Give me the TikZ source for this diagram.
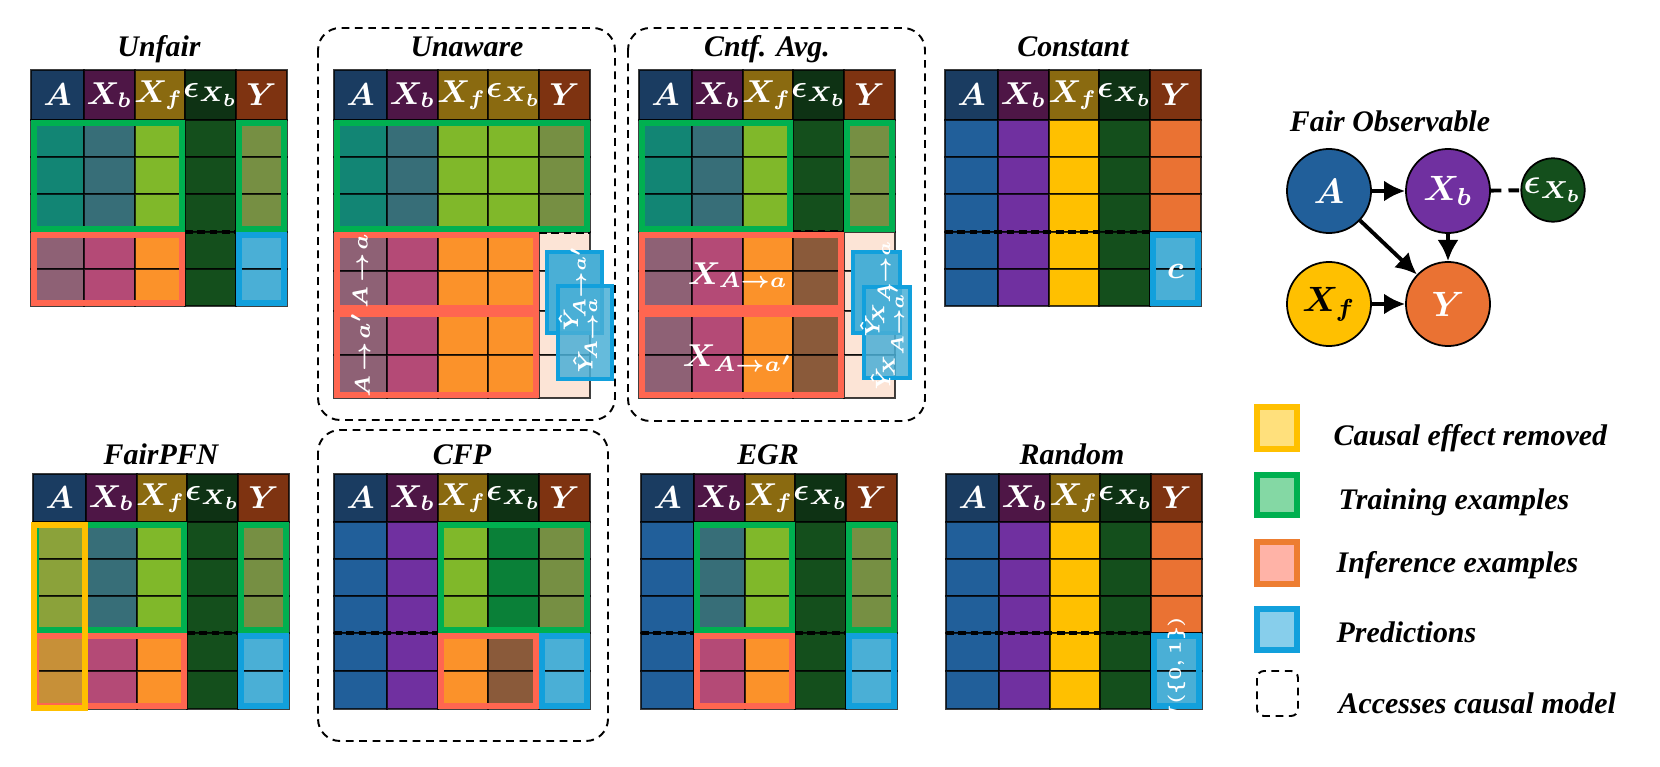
\documentclass[tikz,border=0pt]{standalone}
\usepackage{fontspec}
\setmainfont{Liberation Serif}
\usepackage{amsmath}
\usetikzlibrary{arrows.meta}
\definecolor{hA}{HTML}{1A3C61}\definecolor{hXb}{HTML}{4E1646}\definecolor{hXf}{HTML}{8A6A10}
\definecolor{hE}{HTML}{0E3214}\definecolor{hY}{HTML}{7E3311}
\definecolor{pA}{HTML}{215F9A}\definecolor{pXb}{HTML}{7030A0}\definecolor{pXf}{HTML}{FFC000}
\definecolor{pE}{HTML}{144F1C}\definecolor{pY}{HTML}{EA7233}
\definecolor{tA}{HTML}{128574}\definecolor{tXb}{HTML}{376E78}\definecolor{tXf}{HTML}{80B82A}
\definecolor{tY}{HTML}{768F43}\definecolor{tE}{HTML}{0A8038}
\definecolor{iA}{HTML}{8E6175}\definecolor{iXb}{HTML}{B44A76}\definecolor{iXf}{HTML}{FB922A}
\definecolor{iE}{HTML}{8A5A3A}
\definecolor{fpA}{HTML}{8BA23A}\definecolor{fpAi}{HTML}{C79038}
\definecolor{pred}{HTML}{4AAFD6}\definecolor{predb}{HTML}{12A0DC}
\definecolor{gbox}{HTML}{00B050}\definecolor{rbox}{HTML}{FF6650}\definecolor{ybox}{HTML}{FFC000}
\definecolor{peach}{HTML}{FCE4D6}
\definecolor{lgY}{HTML}{FFE07C}\definecolor{lgG}{HTML}{84D8A4}\definecolor{lgR}{HTML}{FFB3A7}
\definecolor{lgRb}{HTML}{ED7D31}\definecolor{lgB}{HTML}{87CEEB}
\newcommand\fttl{\fontsize{8.5}{10}\selectfont\bfseries\itshape}
\newcommand\fhead{\fontsize{8.6}{10}\selectfont\boldmath}
\newcommand\fpred{\fontsize{6}{7}\selectfont\boldmath}
\newcommand\fsmall{\fontsize{5.3}{6}\selectfont\boldmath}
\newcommand\fgraph{\fontsize{10}{12}\selectfont\boldmath}
\newcommand\trow[8]{%
  \filldraw[cellst,fill=#4] (#1,#2) rectangle (#1+53,#3);
  \filldraw[cellst,fill=#5] (#1+53,#2) rectangle (#1+104,#3);
  \filldraw[cellst,fill=#6] (#1+104,#2) rectangle (#1+154,#3);
  \filldraw[cellst,fill=#7] (#1+154,#2) rectangle (#1+205,#3);
  \filldraw[cellst,fill=#8] (#1+205,#2) rectangle (#1+256,#3);}
\newcommand\thead[5]{%
  \trow{#2}{#3}{#4}{hA}{hXb}{hXf}{#5}{hY}
  \node[hlab] (#1hA) at (#2+26.5,{(#3+#4)/2}) {$A$};
  \node[hlab] (#1hXb) at (#2+78.5,{(#3+#4)/2}) {$X_b$};
  \node[hlab] (#1hXf) at (#2+128,{(#3+#4)/2}) {$X_f$};
  \node[hlab] (#1hE) at (#2+180,{(#3+#4)/2}) {$\epsilon_{X_b}$};
  \node[hlab] (#1hY) at (#2+230.5,{(#3+#4)/2}) {$Y$};}
\newcommand\sel[5]{\draw[selbox,draw=#1] (#2+3,#3+3) rectangle (#4-3,#5-3);}
\begin{document}
\begin{tikzpicture}[x=0.01cm,y=-0.01cm,
  cellst/.style={draw=black,draw opacity=0.75,line width=0.35pt},
  selbox/.style={line width=1.7pt},
  sepdash/.style={draw=black,line width=0.9pt,dash pattern=on 2.2pt off 1.3pt},
  cmbox/.style={draw=black,line width=0.55pt,dash pattern=on 2.2pt off 1.6pt,rounded corners=0.22cm},
  hlab/.style={text=white,font=\fhead,inner sep=0pt},
  ttl/.style={font=\fttl,anchor=base,inner sep=0pt},
  predst/.style={fill=pred,draw=predb,line width=1.4pt},
  predtxt/.style={text=white,font=\fpred,rotate=90,inner sep=0pt},
  gnode/.style={circle,draw=black,line width=0.5pt,minimum size=0.84cm,inner sep=0pt,font=\fgraph},
  garrow/.style={-{Latex[length=6pt,width=6pt]},line width=1.1pt},
  legtxt/.style={font=\fttl,anchor=west,inner sep=0pt},
  legsq/.style={line width=1.7pt}]
\useasboundingbox (0,0) rectangle (1660,767);

% ---------------- Unfair
\node[ttl] (tUnfair) at (159,57) {Unfair};
\thead{uf}{31}{70}{120}{hE}
\trow{31}{120}{157}{tA}{tXb}{tXf}{pE}{tY}
\trow{31}{157}{194}{tA}{tXb}{tXf}{pE}{tY}
\trow{31}{194}{232}{tA}{tXb}{tXf}{pE}{tY}
\trow{31}{232}{269}{iA}{iXb}{iXf}{pE}{pred}
\trow{31}{269}{306}{iA}{iXb}{iXf}{pE}{pred}
\draw[sepdash] (31+154,232) -- (31+205,232);
\sel{gbox}{31}{120}{31+154}{232}
\sel{gbox}{31+205}{120}{31+256}{232}
\sel{rbox}{31}{232}{31+154}{306}
\sel{predb}{31+205}{232}{31+256}{306}

% ---------------- Unaware
\draw[cmbox] (318,28) rectangle (615,420);
\node[ttl] (tUnaware) at (467,57) {Unaware};
\thead{ua}{334}{70}{120}{hXf}
\trow{334}{120}{157}{tA}{tXb}{tXf}{tXf}{tY}
\trow{334}{157}{194}{tA}{tXb}{tXf}{tXf}{tY}
\trow{334}{194}{232}{tA}{tXb}{tXf}{tXf}{tY}
\trow{334}{232}{271}{iA}{iXb}{iXf}{iXf}{peach}
\trow{334}{271}{311}{iA}{iXb}{iXf}{iXf}{peach}
\trow{334}{311}{355}{iA}{iXb}{iXf}{iXf}{peach}
\trow{334}{355}{398}{iA}{iXb}{iXf}{iXf}{peach}
\draw[sepdash] (334+205,232) -- (334+256,232);
\sel{gbox}{334}{120}{334+256}{232}
\sel{rbox}{334}{232}{334+205}{311}
\sel{rbox}{334}{311}{334+205}{398}
\node[predtxt] (uaAa) at (360.5,271) {$A\!\rightarrow\! a$};
\node[predtxt] (uaAb) at (360.5,355) {$A\!\rightarrow\! a'$};
\filldraw[predst] (547,252) rectangle (602,333);
\filldraw[predst,fill opacity=0.85] (558,286) rectangle (612,379);
\node[predtxt] (uaYb) at (572,288) {$\hat{Y}_{\!A\rightarrow a'}$};
\node[predtxt] (uaYa) at (585,335) {$\hat{Y}_{\!A\rightarrow a}$};

% ---------------- Cntf. Avg.
\draw[cmbox] (628,28) rectangle (925,421);
\node[ttl] (tCntf) at (767,57) {Cntf. Avg.};
\thead{ca}{639}{70}{120}{hE}
\trow{639}{120}{157}{tA}{tXb}{tXf}{pE}{tY}
\trow{639}{157}{194}{tA}{tXb}{tXf}{pE}{tY}
\trow{639}{194}{232}{tA}{tXb}{tXf}{pE}{tY}
\trow{639}{232}{271}{iA}{iXb}{iXf}{iE}{peach}
\trow{639}{271}{311}{iA}{iXb}{iXf}{iE}{peach}
\trow{639}{311}{355}{iA}{iXb}{iXf}{iE}{peach}
\trow{639}{355}{398}{iA}{iXb}{iXf}{iE}{peach}
\draw[sepdash] (639+154,232) -- (639+205,232);
\sel{gbox}{639}{120}{639+154}{232}
\sel{gbox}{639+205}{120}{639+256}{232}
\sel{rbox}{639}{232}{639+205}{311}
\sel{rbox}{639}{311}{639+205}{398}
\node[hlab] (caXa) at (738,275) {$X_{A\rightarrow a}$};
\node[hlab] (caXb) at (738,358) {$X_{A\rightarrow a'}$};
\filldraw[predst] (853,252) rectangle (900,333);
\filldraw[predst,fill opacity=0.85] (864,287) rectangle (910,378);
\node[predtxt] (caYa) at (875,288) {$\hat{Y}_{\!X_{A\rightarrow a}}$};
\node[predtxt] (caYb) at (887,335) {$\hat{Y}_{\!X_{A\rightarrow a'}}$};

% ---------------- Constant
\node[ttl] (tConst) at (1073,57) {Constant};
\thead{co}{945}{70}{120}{hE}
\trow{945}{120}{157}{pA}{pXb}{pXf}{pE}{pY}
\trow{945}{157}{194}{pA}{pXb}{pXf}{pE}{pY}
\trow{945}{194}{232}{pA}{pXb}{pXf}{pE}{pY}
\trow{945}{232}{269}{pA}{pXb}{pXf}{pE}{pred}
\trow{945}{269}{306}{pA}{pXb}{pXf}{pE}{pred}
\draw[sepdash] (945,232) -- (945+205,232);
\sel{predb}{945+205}{232}{945+256}{306}
\node[hlab] (coc) at (945+230.5,271) {$c$};

% ---------------- Fair Observable graph
\node[ttl] (tFair) at (1390,132) {Fair Observable};
\node[gnode,fill=pA,text=white] (gA) at (1329,191) {$A$};
\node[gnode,fill=pXb,text=white] (gXb) at (1448,191) {$X_b$};
\node[gnode,fill=pE,text=white,minimum size=0.56cm] (gE) at (1553,190) {$\epsilon_{X_b}$};
\node[gnode,fill=pXf,text=black] (gXf) at (1329,304) {$X_f$};
\node[gnode,fill=pY,text=white] (gY) at (1448,304) {$Y$};
\draw[garrow] (gA) -- (gXb);
\draw[garrow] (gXb) -- (gY);
\draw[garrow] (gA) -- (gY);
\draw[garrow] (gXf) -- (gY);
\draw[line width=1.1pt,dash pattern=on 3pt off 2pt] (gXb) -- (gE);

% ---------------- FairPFN
\node[ttl] (tFPFN) at (161,464) {FairPFN};
\thead{fp}{33}{474}{522}{hE}
\trow{33}{522}{559}{fpA}{tXb}{tXf}{pE}{tY}
\trow{33}{559}{596}{fpA}{tXb}{tXf}{pE}{tY}
\trow{33}{596}{633}{fpA}{tXb}{tXf}{pE}{tY}
\trow{33}{633}{671}{fpAi}{iXb}{iXf}{pE}{pred}
\trow{33}{671}{709}{fpAi}{iXb}{iXf}{pE}{pred}
\draw[sepdash] (33+154,633) -- (33+205,633);
\sel{gbox}{33}{522}{33+154}{633}
\sel{gbox}{33+205}{522}{33+256}{633}
\sel{rbox}{33}{633}{33+154}{709}
\sel{predb}{33+205}{633}{33+256}{709}
\sel{ybox}{31}{522}{33+55}{711}

% ---------------- CFP
\draw[cmbox] (318,430) rectangle (608,741);
\node[ttl] (tCFP) at (462,464) {CFP};
\thead{cf}{334}{474}{522}{hE}
\trow{334}{522}{559}{pA}{pXb}{tXf}{tE}{tY}
\trow{334}{559}{596}{pA}{pXb}{tXf}{tE}{tY}
\trow{334}{596}{633}{pA}{pXb}{tXf}{tE}{tY}
\trow{334}{633}{671}{pA}{pXb}{iXf}{iE}{pred}
\trow{334}{671}{709}{pA}{pXb}{iXf}{iE}{pred}
\draw[sepdash] (334,633) -- (334+104,633);
\sel{gbox}{334+104}{522}{334+256}{633}
\sel{rbox}{334+104}{633}{334+205}{709}
\sel{predb}{334+205}{633}{334+256}{709}

% ---------------- EGR
\node[ttl] (tEGR) at (768,464) {EGR};
\thead{eg}{641}{474}{522}{hE}
\trow{641}{522}{559}{pA}{tXb}{tXf}{pE}{tY}
\trow{641}{559}{596}{pA}{tXb}{tXf}{pE}{tY}
\trow{641}{596}{633}{pA}{tXb}{tXf}{pE}{tY}
\trow{641}{633}{671}{pA}{iXb}{iXf}{pE}{pred}
\trow{641}{671}{709}{pA}{iXb}{iXf}{pE}{pred}
\draw[sepdash] (641,633) -- (641+53,633);
\draw[sepdash] (641+154,633) -- (641+205,633);
\sel{gbox}{641+53}{522}{641+154}{633}
\sel{gbox}{641+205}{522}{641+256}{633}
\sel{rbox}{641+53}{633}{641+154}{709}
\sel{predb}{641+205}{633}{641+256}{709}

% ---------------- Random
\node[ttl] (tRand) at (1072,464) {Random};
\thead{ra}{946}{474}{522}{hE}
\trow{946}{522}{559}{pA}{pXb}{pXf}{pE}{pY}
\trow{946}{559}{596}{pA}{pXb}{pXf}{pE}{pY}
\trow{946}{596}{633}{pA}{pXb}{pXf}{pE}{pY}
\trow{946}{633}{671}{pA}{pXb}{pXf}{pE}{pred}
\trow{946}{671}{709}{pA}{pXb}{pXf}{pE}{pred}
\draw[sepdash] (946,633) -- (946+205,633);
\sel{predb}{946+205}{633}{946+256}{709}
\node[text=white,font=\fsmall,rotate=90,inner sep=0pt] (raU) at (946+230.5,671) {$U(\{0,1\})$};

% ---------------- Legend
\filldraw[legsq,fill=lgY,draw=ybox] (1257,407) rectangle (1297,449);
\node[legtxt] (l1) at (1333,438) {Causal effect removed};
\filldraw[legsq,fill=lgG,draw=gbox] (1257,475) rectangle (1297,515);
\node[legtxt] (l2) at (1338,502) {Training examples};
\filldraw[legsq,fill=lgR,draw=lgRb] (1257,542) rectangle (1297,584);
\node[legtxt] (l3) at (1336,565) {Inference examples};
\filldraw[legsq,fill=lgB,draw=predb] (1257,609) rectangle (1297,650);
\node[legtxt] (l4) at (1336,632) {Predictions};
\draw[cmbox,rounded corners=0.07cm] (1257,671) rectangle (1298,716);
\node[legtxt] (l5) at (1338,703) {Accesses causal model};
\end{tikzpicture}
\end{document}
